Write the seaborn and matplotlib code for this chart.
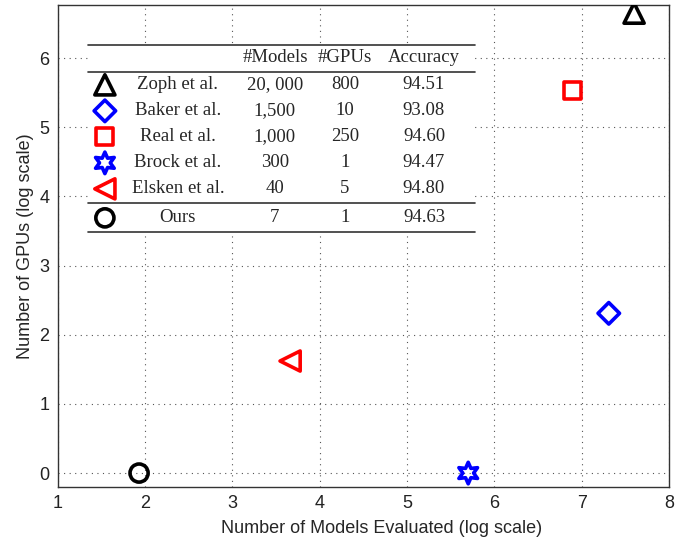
import numpy as np
import pandas as pd
import matplotlib
matplotlib.use("Agg")
import matplotlib.pyplot as plt
import seaborn as sns
from matplotlib.patches import Rectangle

# Data (natural log of models / GPUs)
methods = ["Zoph et al.", "Baker et al.", "Real et al.", "Brock et al.", "Elsken et al.", "Ours"]
log_models = [7.6, 7.31, 6.9, 5.7, 3.66, 1.93]
log_gpus = [6.65, 2.31, 5.53, 0.0, 1.62, 0.0]
markers = ["^", "D", "s", (6, 1, 0), "<", "o"]
colors = ["black", "blue", "red", "blue", "red", "black"]

# Table contents
tab_models = ["20, 000", "1,500", "1,000", "300", "40", "7"]
tab_gpus = ["800", "10", "250", "1", "5", "1"]
tab_acc = ["94.51", "93.08", "94.60", "94.47", "94.80", "94.63"]
tab_header = ["#Models", "#GPUs", "Accuracy"]

df = pd.DataFrame({"method": methods, "x": log_models, "y": log_gpus})

sns.set_style("white")
plt.rcParams["font.family"] = ["Liberation Sans", "DejaVu Sans"]

fig = plt.figure(figsize=(6.89, 5.38), dpi=100)
ax = fig.add_axes([0.084, 0.095, 0.887, 0.896])

sizes = [210, 120, 150, 240, 210, 170]
for i in range(len(df)):
    sns.scatterplot(data=df.iloc[[i]], x="x", y="y", marker=markers[i], s=sizes[i],
                    facecolors="none", edgecolor=colors[i], linewidth=2.6,
                    ax=ax, zorder=5, legend=False)

ax.set_xlim(1, 8)
ax.set_ylim(-0.2, 6.77)
ax.set_xticks(range(1, 9))
ax.set_yticks(range(0, 7))
ax.grid(True, linestyle=(0, (1, 4)), color="#555555", linewidth=0.8)
ax.tick_params(direction="in", length=4, labelsize=13, colors="#222222", pad=6)
for s in ax.spines.values():
    s.set_color("#333333")
    s.set_linewidth(1.0)
ax.set_xlabel("Number of Models Evaluated (log scale)", fontsize=13)
ax.set_ylabel("Number of GPUs (log scale)", fontsize=13)
ax.xaxis.set_label_coords(0.53, -0.068)

# Table inside the axes, placed in axes-fraction coordinates
def fx(px):
    return (px - 58) / 611.0

def fy(py):
    return (487 - py) / 482.0

T = ax.transAxes
ax.add_patch(Rectangle((fx(88), fy(232)), fx(475) - fx(88), fy(44) - fy(232),
                       transform=T, facecolor="white", edgecolor="none", zorder=3))
for py in [45, 72, 203, 232]:
    ax.plot([fx(88), fx(475)], [fy(py), fy(py)], transform=T, color="#333333",
            lw=1.2, zorder=4, clip_on=False)

serif = ["Liberation Serif", "DejaVu Serif"]
col_x = [275, 345, 424]
for cx, h in zip(col_x, tab_header):
    ax.text(fx(cx), fy(58), h, transform=T, ha="center", va="center",
            fontsize=13.5, family=serif, zorder=6)
row_y = [85, 111, 137, 163, 189, 218]
for i in range(len(methods)):
    ry = fy(row_y[i])
    ax.text(fx(178), ry, methods[i], transform=T, ha="center", va="center",
            fontsize=13.5, family=serif, zorder=6)
    for cx, v in zip(col_x, [tab_models[i], tab_gpus[i], tab_acc[i]]):
        ax.text(fx(cx), ry, v, transform=T, ha="center", va="center",
                fontsize=13.5, family=serif, zorder=6)
    ax.scatter([fx(105)], [ry], marker=markers[i], s=sizes[i], facecolors="none",
               edgecolors=colors[i], linewidths=2.6, transform=T, zorder=6, clip_on=False)

fig.savefig("out.png", dpi=100)
